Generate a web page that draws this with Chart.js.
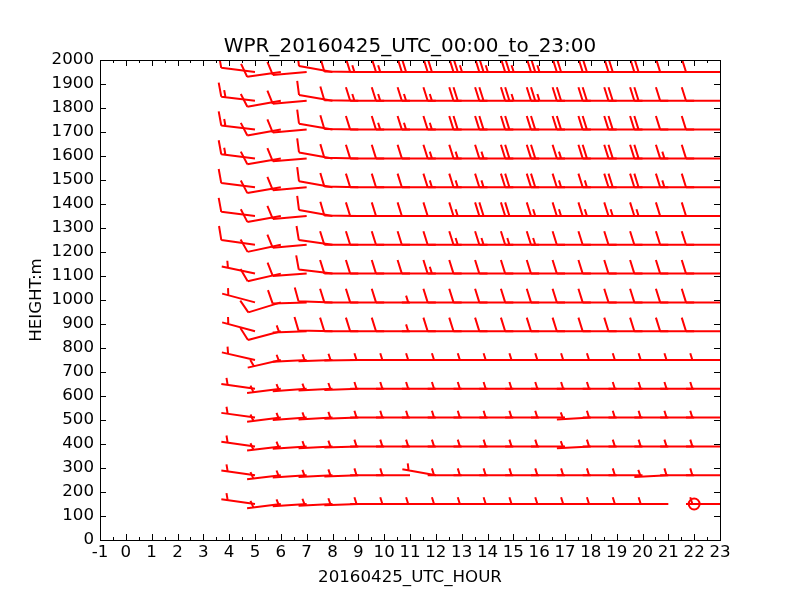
<!DOCTYPE html>
<html>
<head>
<meta charset="utf-8">
<script src="https://cdn.jsdelivr.net/npm/chart.js@4/dist/chart.umd.min.js"></script>
<style>
  html, body { margin: 0; padding: 0; background: #fff; }
</style>
</head>
<body>
<canvas id="wprChart" width="800" height="600"></canvas>
<script>
// profile hours (UTC) and range gate heights (m)
const hours = [5, 6, 7, 8, 9, 10, 11, 12, 13, 14, 15, 16, 17, 18, 19, 20, 21, 22, 23];
const heights = [150, 270, 390, 510, 630, 750, 870, 990, 1110, 1230, 1350, 1470, 1590, 1710, 1830, 1950];
const chartTitle = 'WPR_20160425_UTC_00:00_to_23:00';

// wind speed per gate, one value per hour (0 = calm)
const spd150  = [5, 5, 5, 5, 5, 5, 5, 5, 5, 5, 5, 5, 5, 5, 5, 5, 5, 0, 5];
const spd270  = [5, 5, 5, 5, 5, 5, 5, 5, 5, 5, 5, 5, 5, 5, 5, 5, 5, 5, 5];
const spd390  = [5, 5, 5, 5, 5, 5, 5, 5, 5, 5, 5, 5, 5, 5, 5, 5, 5, 5, 5];
const spd510  = [5, 5, 5, 5, 5, 5, 5, 5, 5, 5, 5, 5, 5, 5, 5, 5, 5, 5, 5];
const spd630  = [5, 5, 5, 5, 5, 5, 5, 5, 5, 5, 5, 5, 5, 5, 5, 5, 5, 5, 5];
const spd750  = [5, 5, 5, 5, 5, 5, 5, 5, 5, 5, 5, 5, 5, 5, 5, 5, 5, 5, 5];
const spd870  = [5, 10, 5, 10, 10, 10, 10, 5, 10, 10, 10, 10, 10, 10, 10, 10, 10, 10, 10];
const spd990  = [5, 10, 10, 10, 10, 10, 10, 5, 10, 10, 10, 10, 10, 10, 10, 10, 10, 10, 10];
const spd1110 = [5, 10, 10, 10, 10, 10, 10, 10, 15, 10, 10, 10, 10, 10, 10, 10, 10, 10, 10];
const spd1230 = [10, 10, 10, 10, 10, 10, 10, 10, 10, 15, 15, 15, 15, 10, 10, 10, 10, 10, 10];
const spd1350 = [10, 10, 10, 10, 10, 10, 10, 10, 10, 15, 20, 20, 15, 15, 15, 15, 15, 10, 10];
const spd1470 = [10, 10, 10, 10, 10, 10, 10, 10, 15, 15, 15, 20, 20, 15, 15, 20, 20, 15, 10];
const spd1590 = [15, 10, 10, 10, 10, 10, 10, 10, 15, 15, 15, 20, 20, 15, 20, 20, 20, 15, 10];
const spd1710 = [15, 10, 10, 10, 10, 10, 15, 15, 15, 20, 20, 20, 20, 20, 20, 20, 20, 10, 10];
const spd1830 = [15, 10, 10, 10, 10, 15, 15, 15, 15, 20, 20, 25, 25, 20, 20, 20, 20, 10, 10];
const spd1950 = [10, 10, 10, 10, 10, 15, 15, 20, 20, 25, 25, 25, 25, 20, 20, 20, 20, 10, 10];

// wind direction (deg, blowing from) per gate, one value per hour
const dir150  = [278, 263, 266, 267, 268, 270, 270, 270, 270, 270, 270, 270, 270, 270, 270, 270, 270, 270, 270];
const dir270  = [278, 263, 266, 267, 268, 270, 270, 280, 270, 270, 270, 270, 270, 270, 270, 270, 267, 270, 270];
const dir390  = [278, 263, 266, 267, 268, 270, 270, 270, 270, 270, 270, 270, 270, 267, 270, 270, 270, 270, 270];
const dir510  = [278, 263, 266, 267, 268, 270, 270, 270, 270, 270, 270, 270, 270, 267, 270, 270, 270, 270, 270];
const dir630  = [278, 263, 266, 267, 268, 270, 270, 270, 270, 270, 270, 270, 270, 270, 270, 270, 270, 270, 270];
const dir750  = [283, 257, 267, 268, 269, 270, 270, 270, 270, 270, 270, 270, 270, 270, 270, 270, 270, 270, 270];
const dir870  = [285, 255, 268, 271, 270, 270, 270, 270, 270, 270, 270, 270, 270, 270, 270, 270, 270, 270, 270];
const dir990  = [285, 253, 268, 272, 270, 270, 270, 270, 270, 270, 270, 270, 270, 270, 270, 270, 270, 270, 270];
const dir1110 = [282, 257, 266, 277, 270, 270, 270, 270, 270, 270, 270, 270, 270, 270, 270, 270, 270, 270, 270];
const dir1230 = [278, 258, 265, 278, 270, 270, 270, 270, 270, 270, 270, 270, 270, 270, 270, 270, 270, 270, 270];
const dir1350 = [277, 260, 265, 280, 271, 270, 270, 270, 270, 270, 270, 270, 270, 270, 270, 270, 270, 270, 270];
const dir1470 = [277, 260, 265, 280, 271, 270, 270, 270, 270, 270, 270, 270, 270, 270, 270, 270, 270, 270, 270];
const dir1590 = [277, 260, 265, 280, 271, 270, 270, 270, 270, 270, 270, 270, 270, 270, 270, 270, 270, 270, 270];
const dir1710 = [277, 260, 265, 280, 271, 270, 270, 270, 270, 270, 270, 270, 270, 270, 270, 270, 270, 270, 270];
const dir1830 = [277, 260, 265, 280, 271, 270, 270, 270, 270, 270, 270, 270, 270, 270, 270, 270, 270, 270, 270];
const dir1950 = [277, 262, 265, 280, 271, 270, 270, 270, 270, 270, 270, 270, 270, 270, 270, 270, 270, 270, 270];

const speedRows = [spd150, spd270, spd390, spd510, spd630, spd750, spd870, spd990,
                   spd1110, spd1230, spd1350, spd1470, spd1590, spd1710, spd1830, spd1950];
const dirRows = [dir150, dir270, dir390, dir510, dir630, dir750, dir870, dir990,
                 dir1110, dir1230, dir1350, dir1470, dir1590, dir1710, dir1830, dir1950];

// one point per (hour, gate)
const barbPoints = [];
heights.forEach(function(h, r) {
  hours.forEach(function(t, c) {
    barbPoints.push({ x: t, y: h, spd: speedRows[r][c], dir: dirRows[r][c] });
  });
});

const FONT = "'DejaVu Sans', 'Liberation Sans', sans-serif";
Chart.defaults.color = '#000';
Chart.defaults.font.family = FONT;

// matplotlib style wind barbs drawn at each point element
const barbPlugin = {
  id: 'barbs',
  afterDatasetsDraw(chart) {
    const ctx = chart.ctx;
    const a = chart.chartArea;
    const meta = chart.getDatasetMeta(0);
    const pts = chart.data.datasets[0].data;
    const L = 34, spacing = L * 0.125, fh = L * 0.4, fw = L * 0.25;
    ctx.save();
    ctx.beginPath();
    ctx.rect(a.left, a.top, a.right - a.left, a.bottom - a.top);
    ctx.clip();
    ctx.strokeStyle = '#ff0000';
    ctx.lineWidth = 2;
    ctx.lineCap = 'butt';
    meta.data.forEach(function(el, i) {
      const p = pts[i];
      const gx = el.x, gy = el.y;
      if (p.spd < 2.5) {
        ctx.beginPath();
        ctx.arc(gx, gy, L * 0.16, 0, Math.PI * 2);
        ctx.stroke();
        return;
      }
      const d = p.dir * Math.PI / 180;
      const sx = Math.sin(d), sy = -Math.cos(d);   // staff points to where the wind comes from
      const px = -sy, py = sx;                       // barb side
      const n = Math.round(p.spd / 5);
      const full = Math.floor(n / 2), half = n % 2;
      ctx.beginPath();
      ctx.moveTo(gx, gy);
      ctx.lineTo(gx + sx * L, gy + sy * L);
      let off = L;
      for (let k = 0; k < full; k++) {
        const ax = gx + sx * off, ay = gy + sy * off;
        ctx.moveTo(ax, ay);
        ctx.lineTo(ax + px * fh + sx * fw / 2, ay + py * fh + sy * fw / 2);
        off -= spacing;
      }
      if (half) {
        if (full === 0) off -= 1.5 * spacing;
        const ax = gx + sx * off, ay = gy + sy * off;
        ctx.moveTo(ax, ay);
        ctx.lineTo(ax + px * fh / 2 + sx * fw / 4, ay + py * fh / 2 + sy * fw / 4);
      }
      ctx.stroke();
    });
    ctx.restore();
  }
};

// frame, inward ticks on all four sides, title centred over the axes
const frameTicks = {
  id: 'frameTicks',
  afterDraw(chart) {
    const ctx = chart.ctx;
    const a = chart.chartArea;
    const xs = chart.scales.x, ys = chart.scales.y;
    ctx.save();
    ctx.strokeStyle = '#000';
    ctx.lineWidth = 1;
    ctx.beginPath();
    for (let v = xs.min; v <= xs.max + 1e-9; v += 0.5) {
      const px = Math.round(xs.getPixelForValue(v)) + 0.5;
      const len = Math.abs(v - Math.round(v)) < 1e-9 ? 6 : 3;
      ctx.moveTo(px, a.bottom); ctx.lineTo(px, a.bottom - len);
      ctx.moveTo(px, a.top); ctx.lineTo(px, a.top + len);
    }
    for (let v = ys.min; v <= ys.max + 1e-9; v += 100) {
      const py = Math.round(ys.getPixelForValue(v)) + 0.5;
      ctx.moveTo(a.left, py); ctx.lineTo(a.left + 6, py);
      ctx.moveTo(a.right, py); ctx.lineTo(a.right - 6, py);
    }
    ctx.stroke();
    ctx.strokeRect(Math.round(a.left) + 0.5, Math.round(a.top) + 0.5,
                   Math.round(a.right - a.left), Math.round(a.bottom - a.top));
    ctx.fillStyle = '#000';
    ctx.font = '20px ' + FONT;
    ctx.textAlign = 'center';
    ctx.textBaseline = 'middle';
    ctx.fillText(chartTitle, (a.left + a.right) / 2, 47);
    ctx.restore();
  }
};

const wprChart = new Chart(document.getElementById('wprChart').getContext('2d'), {
  type: 'scatter',
  data: {
    datasets: [{
      label: 'wind',
      data: barbPoints,
      pointRadius: 0,
      pointHoverRadius: 0
    }]
  },
  options: {
    responsive: false,
    animation: false,
    layout: { padding: { left: 0, right: 80, top: 60, bottom: 0 } },
    plugins: {
      legend: { display: false },
      tooltip: { enabled: false },
      title: { display: false }
    },
    scales: {
      x: {
        type: 'linear',
        min: -1,
        max: 23,
        grid: { display: false, drawTicks: false },
        border: { display: false },
        ticks: {
          stepSize: 1, autoSkip: false, maxRotation: 0, padding: 3, font: { size: 16.67 },
          callback: function(v) { return String(v); }
        },
        title: { display: true, text: '20160425_UTC_HOUR', font: { size: 16.67 }, padding: { top: 0, bottom: 12 } },
        afterFit: function(scale) { scale.height = 60; }
      },
      y: {
        type: 'linear',
        min: 0,
        max: 2000,
        grid: { display: false, drawTicks: false },
        border: { display: false },
        ticks: {
          stepSize: 100, autoSkip: false, padding: 6, font: { size: 16.67 },
          callback: function(v) { return String(v); }
        },
        title: { display: true, text: 'HEIGHT:m', font: { size: 16.67 }, padding: { top: 27, bottom: 0 } },
        afterFit: function(scale) { scale.width = 100; }
      }
    }
  },
  plugins: [barbPlugin, frameTicks]
});
</script>
</body>
</html>
